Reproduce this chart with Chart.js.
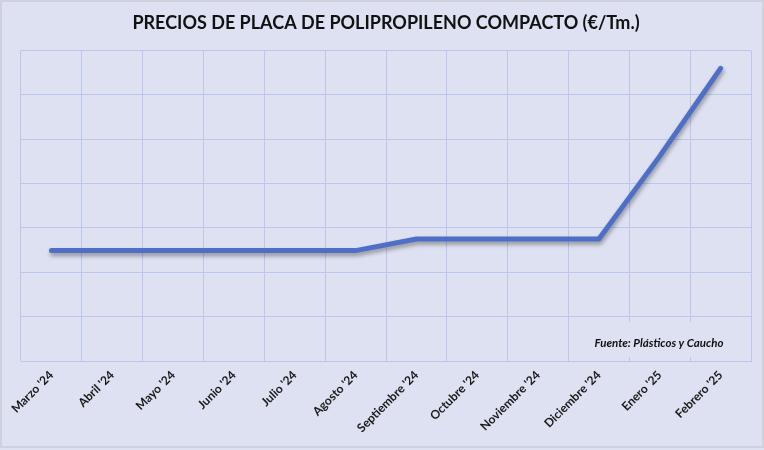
<!DOCTYPE html>
<html>
<head>
<meta charset="utf-8">
<script src="https://cdn.jsdelivr.net/npm/chart.js@4"></script>
<style>
    html, body { margin: 0; padding: 0; background: #ffffff; }
    #wrap { width: 764px; height: 450px; position: relative; }
    canvas { display: block; }
</style>
</head>
<body>
<div id="wrap"><canvas id="priceChart" width="764" height="450"></canvas></div>
<script>
// Chart data
const months = ['Marzo \'24', 'Abril \'24', 'Mayo \'24', 'Junio \'24', 'Julio \'24', 'Agosto \'24',
    'Septiembre \'24', 'Octubre \'24', 'Noviembre \'24', 'Diciembre \'24', 'Enero \'25', 'Febrero \'25'];
const prices = [1245, 1245, 1245, 1245, 1245, 1245, 1375, 1375, 1375, 1375, 2310, 3300];
const chartTitle = 'PRECIOS DE PLACA DE POLIPROPILENO COMPACTO (€/Tm.)';
const sourceNote = 'Fuente: Plásticos y Caucho';

const BG = '#dde1f1';
const GRID = '#b9c7ec';
const LINE = '#4f6fc6';
const FONT = 'Lato, "Open Sans", sans-serif';

// Paints background and the outer frame
const backgroundPlugin = {
    id: 'bg',
    beforeDraw(chart) {
        const ctx = chart.ctx;
        ctx.save();
        ctx.fillStyle = BG;
        ctx.fillRect(0, 0, chart.width, chart.height);
        ctx.strokeStyle = '#c9ccd6';
        ctx.lineWidth = 1.5;
        ctx.strokeRect(1, 1, chart.width - 2, chart.height - 4);
        ctx.restore();
    }
};

// Soft shadow under the line
const shadowPlugin = {
    id: 'lineShadow',
    beforeDatasetDraw(chart) {
        const ctx = chart.ctx;
        ctx.save();
        ctx.shadowColor = 'rgba(0, 0, 0, 0.35)';
        ctx.shadowBlur = 4;
        ctx.shadowOffsetX = 1;
        ctx.shadowOffsetY = 3;
    },
    afterDatasetDraw(chart) {
        chart.ctx.restore();
    }
};

// Source text box inside the plot, bottom right
const sourcePlugin = {
    id: 'source',
    afterDatasetsDraw(chart) {
        const ctx = chart.ctx;
        const area = chart.chartArea;
        ctx.save();
        ctx.fillStyle = BG;
        ctx.fillRect(area.right - 166, area.bottom - 39, 150, 35);
        ctx.fillStyle = '#111111';
        ctx.font = 'italic bold 11.5px ' + FONT;
        ctx.textAlign = 'center';
        ctx.textBaseline = 'middle';
        ctx.fillText(sourceNote, area.right - 92, area.bottom - 18);
        ctx.restore();
    }
};

const ctx = document.getElementById('priceChart').getContext('2d');
new Chart(ctx, {
    type: 'line',
    data: {
        labels: months,
        datasets: [{
            label: 'Precio',
            data: prices,
            borderColor: LINE,
            borderWidth: 5,
            borderCapStyle: 'round',
            borderJoinStyle: 'round',
            pointRadius: 0,
            pointHoverRadius: 0,
            tension: 0,
            fill: false
        }]
    },
    options: {
        responsive: false,
        animation: false,
        events: [],
        layout: {
            padding: { left: 21, right: 13, top: 0, bottom: 0 }
        },
        scales: {
            x: {
                offset: true,
                grid: {
                    offset: true,
                    color: GRID,
                    lineWidth: 1,
                    drawTicks: false
                },
                border: { display: true, color: GRID },
                ticks: {
                    autoSkip: false,
                    maxRotation: 45,
                    minRotation: 45,
                    padding: 7,
                    color: '#1a1a1a',
                    font: { family: FONT, size: 12, weight: 'bold' }
                },
                afterFit(scale) { scale.height = 89; }
            },
            y: {
                min: 0,
                max: 3500,
                grid: {
                    color: GRID,
                    lineWidth: 1,
                    drawTicks: false
                },
                border: { display: false },
                ticks: { display: false, stepSize: 500 },
                afterFit(scale) { scale.width = 0; }
            }
        },
        plugins: {
            legend: { display: false },
            tooltip: { enabled: false },
            title: {
                display: true,
                text: chartTitle,
                color: '#111111',
                font: { family: FONT, size: 18, weight: 'bold' },
                padding: { top: 12, bottom: 17 }
            }
        }
    },
    plugins: [backgroundPlugin, shadowPlugin, sourcePlugin]
});
</script>
</body>
</html>
